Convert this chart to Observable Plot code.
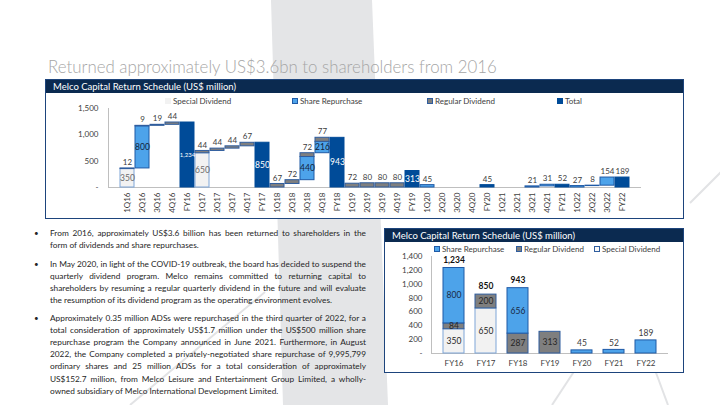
<!DOCTYPE html>
<html><head><meta charset="utf-8">
<script src="https://cdn.jsdelivr.net/npm/d3@7"></script>
<script src="https://cdn.jsdelivr.net/npm/@observablehq/plot@0.6"></script>
<style>
html,body{margin:0;padding:0}
body{width:720px;height:405px;overflow:hidden;background:#fff;position:relative;font-family:Lato,"Open Sans",sans-serif}
.abs{position:absolute}
#title{left:48px;top:57px;color:#a6a6a6;font-size:17px;font-weight:300;white-space:nowrap;line-height:20px}
.box{box-sizing:border-box;border:1.5px solid #1d447c;background:#fff}
.hdr{position:absolute;left:0;top:0;right:0;height:13px;background:#0b2a50;color:#fff;font-size:9.5px;line-height:13px;padding-left:7px;white-space:nowrap}
.lg{position:absolute;font-size:8px;color:#404040;white-space:nowrap;line-height:10px}
.lg i{display:inline-block;width:6px;height:6px;margin-right:2px;vertical-align:0px;box-sizing:border-box}
.line{position:absolute;white-space:nowrap;font-size:8.3px;color:#262626;line-height:10px}
.bul{position:absolute;font-size:8px;color:#262626;line-height:10px}
</style></head><body>
<svg class="abs" style="left:0;top:0" width="720" height="405">
  <polygon points="271,0 372,0 388,405 283,405" fill="#e4e5e7"/>
  <line x1="265" y1="292" x2="130" y2="405" stroke="#e2e3e5" stroke-width="2"/>
  <line x1="722" y1="171" x2="690" y2="203" stroke="#e2e3e5" stroke-width="2"/>
  <line x1="575" y1="370" x2="552" y2="405" stroke="#e2e3e5" stroke-width="2"/>
  <line x1="655" y1="370" x2="668" y2="405" stroke="#e2e3e5" stroke-width="2"/>
</svg>
<div id="title" class="abs">Returned approximately US$3.6bn to shareholders from 2016</div>

<div class="abs box" style="left:45px;top:79px;width:639px;height:140px"><div class="hdr">Melco Capital Return Schedule (US$ million)</div></div>
<div class="abs box" style="left:384px;top:228px;width:300px;height:145px"><div class="hdr">Melco Capital Return Schedule (US$ million)</div></div>

<div id="chart1" class="abs" style="left:45px;top:93px"></div>
<div id="chart2" class="abs" style="left:384px;top:242px"></div>

<div class="lg" style="left:165px;top:96px"><i style="background:#f2f2f2"></i>Special Dividend</div>
<div class="lg" style="left:292px;top:96px"><i style="background:#4da3ea;border:1px solid #1f5aa6"></i>Share Repurchase</div>
<div class="lg" style="left:427px;top:96px"><i style="background:#7f7f7f;border:1px solid #2f5d9e"></i>Regular Dividend</div>
<div class="lg" style="left:557px;top:96px"><i style="background:#004b98"></i>Total</div>

<div class="lg" style="left:434px;top:244px"><i style="background:#4da3ea;border:1px solid #1f5aa6"></i>Share Repurchase</div>
<div class="lg" style="left:516px;top:244px"><i style="background:#7f7f7f;border:1px solid #2f5d9e"></i>Regular Dividend</div>
<div class="lg" style="left:594px;top:244px"><i style="background:#f7f7f7;border:1px solid #2f5d9e"></i>Special Dividend</div>

<div id="text"></div>

<script>
// ---------- data: quarterly / annual capital return (US$ million) ----------
const cats1 = ["1Q16","2Q16","3Q16","4Q16","FY16","1Q17","2Q17","3Q17","4Q17","FY17","1Q18","2Q18","3Q18","4Q18","FY18","1Q19","2Q19","3Q19","4Q19","FY19","1Q20","2Q20","3Q20","4Q20","FY20","1Q21","2Q21","3Q21","4Q21","FY21","1Q22","2Q22","3Q22","FY22"];
const special1    = [350,0,0,0,0, 650,0,0,0,0, 0,0,0,0,0, 0,0,0,0,0, 0,0,0,0,0, 0,0,0,0,0, 0,0,0,0];
const repurchase1 = [0,800,0,0,0, 0,0,0,0,0, 0,0,440,216,0, 0,0,0,0,0, 45,0,0,0,0, 0,0,21,31,0, 27,8,154,0];
const regular1    = [12,9,19,44,0, 44,44,44,67,0, 67,72,72,77,0, 72,80,80,80,0, 0,0,0,0,0, 0,0,0,0,0, 0,0,0,0];
const total1      = [0,0,0,0,1234, 0,0,0,0,850, 0,0,0,0,943, 0,0,0,0,313, 0,0,0,0,45, 0,0,0,0,52, 0,0,0,189];
const waterfallYears = ["16","17","18","20","21","22"];
const yTicks1 = [0,500,1000,1500];

const cats2 = ["FY16","FY17","FY18","FY19","FY20","FY21","FY22"];
const special2    = [350,650,0,0,0,0,0];
const regular2    = [84,200,287,313,0,0,0];
const repurchase2 = [800,0,656,0,45,52,189];
const totals2     = [1234,850,943,313,45,52,189];
const yTicks2 = [0,200,400,600,800,1000,1200,1400];

const paragraphs = [
  ["From 2016, approximately US$3.6 billion has been returned to shareholders in the",
   "form of dividends and share repurchases."],
  ["In May 2020, in light of the COVID-19 outbreak, the board has decided to suspend the",
   "quarterly dividend program. Melco remains committed to returning capital to",
   "shareholders by resuming a regular quarterly dividend in the future and will evaluate",
   "the resumption of its dividend program as the operating environment evolves."],
  ["Approximately 0.35 million ADSs were repurchased in the third quarter of 2022, for a",
   "total consideration of approximately US$1.7 million under the US$500 million share",
   "repurchase program the Company announced in June 2021. Furthermore, in August",
   "2022, the Company completed a privately-negotiated share repurchase of 9,995,799",
   "ordinary shares and 25 million ADSs for a total consideration of approximately",
   "US$152.7 million, from Melco Leisure and Entertainment Group Limited, a wholly-",
   "owned subsidiary of Melco International Development Limited."]
];

// ---------- styles ----------
const FILL = {special:"#f2f2f2", repurchase:"#4da3ea", regular:"#7f7f7f", total:"#004b98"};
const STROKE = {special:"#7ea6d8", repurchase:"#1f5aa6", regular:"#2f5d9e", total:"#004b98"};
const INK = {special:"#6b6b6b", repurchase:"#14243a", regular:"#262626", total:"#ffffff"};
const fmt = d3.format(",");

// ---------- chart 1 segments ----------
const segs1 = [], inside1 = [], above1 = [];
let run = 0;
cats1.forEach((c, i) => {
  const yr = c.slice(-2);
  if (c.startsWith("FY")) {
    const v = total1[i];
    segs1.push({cat:c, kind:"total", y1:0, y2:v});
    if (v >= 200) inside1.push({cat:c, y:v/2, t:fmt(v), kind:"total"});
    else above1.push({cat:c, y:v, t:fmt(v)});
    run = 0;
    return;
  }
  let base = waterfallYears.includes(yr) ? run : 0;
  [["special",special1],["repurchase",repurchase1],["regular",regular1]].forEach(([k, arr]) => {
    const v = arr[i];
    if (!v) return;
    segs1.push({cat:c, kind:k, y1:base, y2:base+v});
    if (v >= 200) inside1.push({cat:c, y:base+v/2, t:fmt(v), kind:k});
    else above1.push({cat:c, y:base+v, t:fmt(v)});
    base += v;
  });
  run = base;
});

const chart1 = Plot.plot({
  width: 639, height: 126,
  marginLeft: 63, marginRight: 43, marginTop: 15, marginBottom: 32,
  x: {domain: cats1, padding: 0.1, axis: null},
  y: {domain: [0,1500], axis: null},
  color: {type: "identity"},
  style: {fontFamily: "Lato, sans-serif", fontSize: "8px", color: "#404040", background: "transparent", overflow: "visible"},
  marks: [
    Plot.frame({anchor: "left", stroke: "#bfbfbf"}),
    Plot.ruleY([0], {stroke: "#bfbfbf"}),
    Plot.barY(segs1, {x: "cat", y1: "y1", y2: "y2", fill: d => FILL[d.kind], stroke: d => STROKE[d.kind], strokeWidth: 1}),
    Plot.axisY({ticks: yTicks1, tickFormat: d => d === 0 ? "-" : fmt(d), tickSize: 0, tickPadding: 10, fontSize: 8, label: null}),
    Plot.axisX({tickRotate: -90, tickSize: 0, tickPadding: 5, fontSize: 8, label: null}),
    Plot.text(inside1, {x: "cat", y: "y", text: "t", fill: d => INK[d.kind], fontSize: d => d.t.length > 4 ? 6 : 8.5}),
    Plot.text(above1, {x: "cat", y: "y", text: "t", dy: -6, fill: "#404040", fontSize: 8})
  ]
});
document.getElementById("chart1").appendChild(chart1);

// ---------- chart 2 segments ----------
const segs2 = [], inside2 = [], above2 = [], bold2 = [];
cats2.forEach((c, i) => {
  const parts = [["special",special2[i]],["regular",regular2[i]],["repurchase",repurchase2[i]]].filter(p => p[1] > 0);
  let base = 0;
  parts.forEach(([k, v]) => {
    segs2.push({cat:c, kind:k, y1:base, y2:base+v});
    if (parts.length > 1 || v >= 250) inside2.push({cat:c, y:base+v/2, t:fmt(v), kind:k});
    else above2.push({cat:c, y:base+v, t:fmt(v)});
    base += v;
  });
  if (parts.length > 1) bold2.push({cat:c, y:totals2[i], t:fmt(totals2[i])});
});

const chart2 = Plot.plot({
  width: 300, height: 131,
  marginLeft: 47, marginRight: 16, marginTop: 14, marginBottom: 20,
  x: {domain: cats2, padding: 0.35, axis: null},
  y: {domain: [0,1400], axis: null},
  color: {type: "identity"},
  style: {fontFamily: "Lato, sans-serif", fontSize: "8px", color: "#404040", background: "transparent", overflow: "visible"},
  marks: [
    Plot.frame({anchor: "left", stroke: "#bfbfbf"}),
    Plot.ruleY([0], {stroke: "#bfbfbf"}),
    Plot.barY(segs2, {x: "cat", y1: "y1", y2: "y2", fill: d => FILL[d.kind], stroke: d => STROKE[d.kind], strokeWidth: 1}),
    Plot.axisY({ticks: yTicks2, tickFormat: d => d === 0 ? "-" : fmt(d), tickSize: 0, tickPadding: 9, fontSize: 8, label: null}),
    Plot.axisX({tickSize: 0, tickPadding: 7, fontSize: 8, label: null}),
    Plot.text(inside2, {x: "cat", y: "y", text: "t", fill: d => d.kind === "repurchase" ? "#1a2a44" : "#262626", fontSize: 8.5}),
    Plot.text(above2, {x: "cat", y: "y", text: "t", dy: -7, fill: "#404040", fontSize: 8.5}),
    Plot.text(bold2, {x: "cat", y: "y", text: "t", dy: -8, fill: "#111", fontSize: 8.5, fontWeight: "bold"})
  ]
});
document.getElementById("chart2").appendChild(chart2);

// ---------- left text column ----------
const textEl = document.getElementById("text");
const paraTops = [228, 259, 313];
const lineH = 12.1, textLeft = 50, textWidth = 316;
paragraphs.forEach((lines, p) => {
  const b = document.createElement("div");
  b.className = "bul"; b.textContent = "•";
  b.style.left = "34px"; b.style.top = paraTops[p] + "px";
  textEl.appendChild(b);
  lines.forEach((ln, j) => {
    const d = document.createElement("div");
    d.className = "line"; d.textContent = ln;
    d.style.left = textLeft + "px"; d.style.top = (paraTops[p] + j*lineH) + "px";
    textEl.appendChild(d);
    if (j < lines.length - 1) {
      const w = d.getBoundingClientRect().width;
      const n = (ln.match(/ /g) || []).length;
      if (n) d.style.wordSpacing = ((textWidth - w) / n) + "px";
    }
  });
});

// fit title width
const t = document.getElementById("title");
const tw = t.getBoundingClientRect().width;
t.style.fontSize = (17 * 449 / tw) + "px";
</script>
</body></html>
